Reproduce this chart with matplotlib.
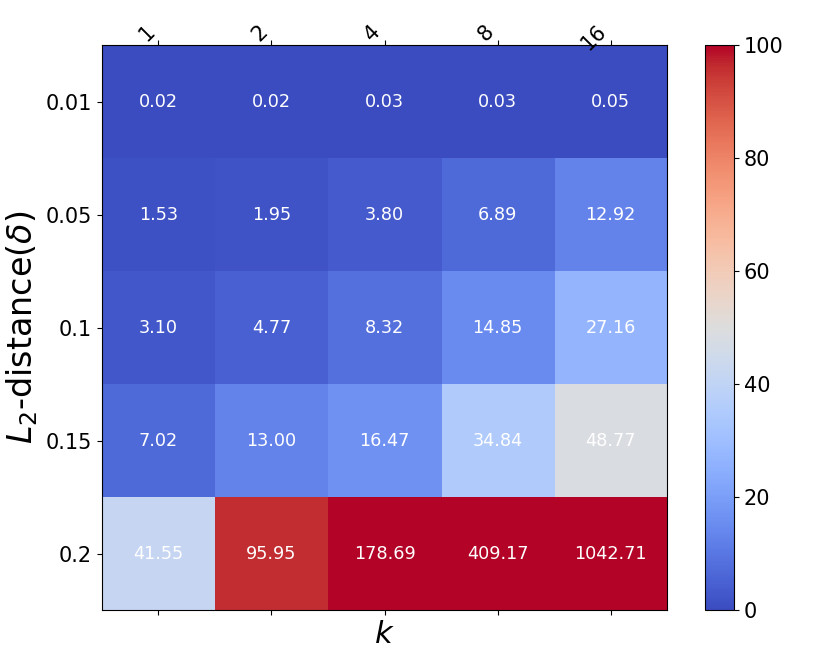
import matplotlib

matplotlib.use("Agg")
import matplotlib.pyplot as plt
import numpy as np

k_labels = ["1", "2", "4", "8", "16"]
delta_labels = ["0.01", "0.05", "0.1", "0.15", "0.2"]
times = np.array([
    [0.02, 0.02, 0.03, 0.03, 0.05],
    [1.53, 1.95, 3.80, 6.89, 12.92],
    [3.10, 4.77, 8.32, 14.85, 27.16],
    [7.02, 13.00, 16.47, 34.84, 48.77],
    [41.55, 95.95, 178.69, 409.17, 1042.71],
])

fig = plt.figure(figsize=(8.31, 6.56), dpi=100)
ax = fig.add_axes([0.1227, 0.0701, 0.680, 0.861])
cax = fig.add_axes([0.8484, 0.0701, 0.0349, 0.861])

im = ax.imshow(times, cmap="coolwarm", vmin=0, vmax=100, aspect="auto")
cb = fig.colorbar(im, cax=cax)
cb.ax.tick_params(labelsize=15)

for i in range(times.shape[0]):
    for j in range(times.shape[1]):
        ax.text(j, i, f"{times[i, j]:.2f}", ha="center", va="center",
                color="white", fontsize=12.7)

ax.set_xticks(np.arange(len(k_labels)))
ax.tick_params(top=True, labeltop=True, bottom=True, labelbottom=False)
ax.set_xticklabels(k_labels, rotation=45, ha="right", rotation_mode="anchor",
                   fontsize=15)
ax.set_yticks(np.arange(len(delta_labels)))
ax.set_yticklabels(delta_labels, fontsize=15)
ax.set_xlabel("$k$", fontsize=22)
ax.set_ylabel(r"$L_2$-distance($\delta$)", fontsize=24)

fig.savefig("out.png", dpi=100)
